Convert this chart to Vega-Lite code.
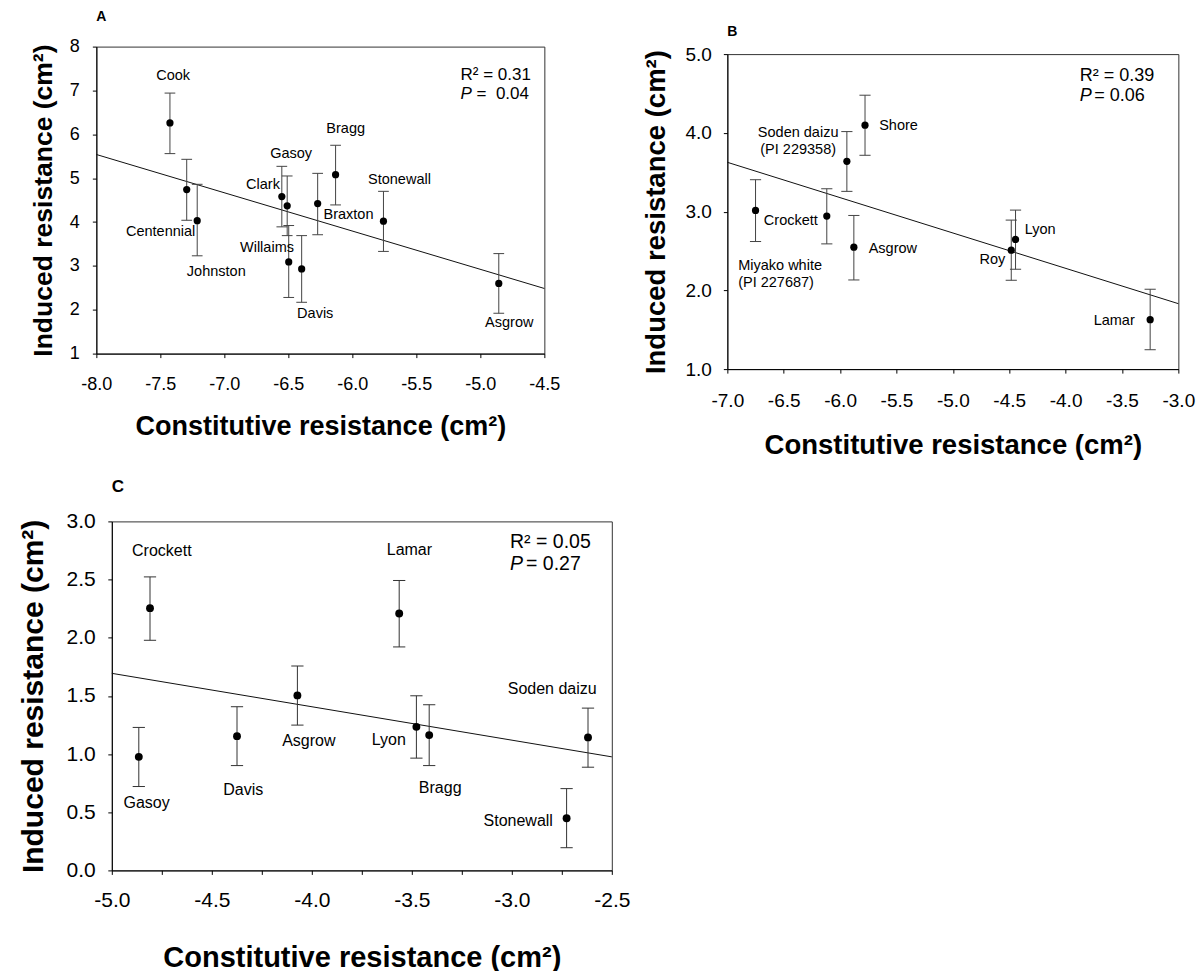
{
  "$schema": "https://vega.github.io/schema/vega-lite/v6.json",
  "background": "white",
  "padding": {"left": 0, "top": 0, "right": 2, "bottom": 0},
  "config": {
    "font": "Liberation Sans",
    "view": {"stroke": "#333", "strokeWidth": 1},
    "axis": {"labelFont": "Liberation Sans", "titleFont": "Liberation Sans", "labelColor": "black", "titleColor": "black", "domainColor": "black", "tickColor": "black", "grid": false, "labelFlush": false, "labelOverlap": false, "tickSize": 4, "titleFontWeight": "bold"},
    "text": {"font": "Liberation Sans"},
    "title": {"font": "Liberation Sans", "color": "black"}
  },
  "datasets": {
    "A": [
      {"name": "Cook", "x": -7.425, "y": 6.26, "lo": 5.56, "hi": 6.94, "lx": -7.40, "ly": 7.32},
      {"name": "Centennial", "x": -7.294, "y": 4.74, "lo": 4.04, "hi": 5.43, "lx": -7.498, "ly": 3.77},
      {"name": "Johnston", "x": -7.212, "y": 4.03, "lo": 3.23, "hi": 4.86, "lx": -7.063, "ly": 2.86},
      {"name": "Clark", "x": -6.551, "y": 4.58, "lo": 3.89, "hi": 5.27, "lx": -6.698, "ly": 4.84},
      {"name": "Gasoy", "x": -6.509, "y": 4.37, "lo": 3.69, "hi": 5.05, "lx": -6.478, "ly": 5.56},
      {"name": "Willaims", "x": -6.497, "y": 3.09, "lo": 2.28, "hi": 3.92, "lx": -6.667, "ly": 3.40},
      {"name": "Davis", "x": -6.396, "y": 2.93, "lo": 2.17, "hi": 3.69, "lx": -6.29, "ly": 1.90},
      {"name": "Braxton", "x": -6.271, "y": 4.42, "lo": 3.71, "hi": 5.11, "lx": -6.03, "ly": 4.17},
      {"name": "Bragg", "x": -6.131, "y": 5.08, "lo": 4.39, "hi": 5.75, "lx": -6.052, "ly": 6.11},
      {"name": "Stonewall", "x": -5.757, "y": 4.02, "lo": 3.33, "hi": 4.70, "lx": -5.632, "ly": 4.95},
      {"name": "Asgrow", "x": -4.856, "y": 2.60, "lo": 1.92, "hi": 3.28, "lx": -4.774, "ly": 1.70}
    ],
    "fitA": [{"x": -8, "y": 5.54}, {"x": -4.5, "y": 2.485}],
    "statA": [
      {"k": "r", "t": "R² = 0.31", "x": -5.155, "y": 7.36},
      {"k": "p", "t": "P", "x": -5.155, "y": 6.92},
      {"k": "v", "t": "=\u00a0\u00a00.04", "x": -5.155, "y": 6.92}
    ],
    "B": [
      {"name": "Miyako white\n(PI 227687)", "x": -6.750, "y": 3.015, "lo": 2.62, "hi": 3.405, "lx": -6.904, "ly": 2.307},
      {"name": "Crockett", "x": -6.118, "y": 2.943, "lo": 2.59, "hi": 3.29, "lx": -6.437, "ly": 2.88},
      {"name": "Soden daizu\n(PI 229358)", "x": -5.94, "y": 3.638, "lo": 3.257, "hi": 4.016, "lx": -6.372, "ly": 3.999},
      {"name": "Asgrow", "x": -5.878, "y": 2.548, "lo": 2.132, "hi": 2.951, "lx": -5.532, "ly": 2.53},
      {"name": "Shore", "x": -5.779, "y": 4.097, "lo": 3.715, "hi": 4.478, "lx": -5.482, "ly": 4.088},
      {"name": "Roy", "x": -4.482, "y": 2.51, "lo": 2.128, "hi": 2.892, "lx": -4.65, "ly": 2.387},
      {"name": "Lyon", "x": -4.444, "y": 2.646, "lo": 2.268, "hi": 3.019, "lx": -4.225, "ly": 2.77},
      {"name": "Lamar", "x": -3.25, "y": 1.628, "lo": 1.246, "hi": 2.014, "lx": -3.569, "ly": 1.607}
    ],
    "fitB": [{"x": -7, "y": 3.626}, {"x": -3, "y": 1.831}],
    "statB": [
      {"k": "r", "t": "R² = 0.39", "x": -3.875, "y": 4.72},
      {"k": "p", "t": "P", "x": -3.875, "y": 4.47},
      {"k": "v", "t": "= 0.06", "x": -3.875, "y": 4.47}
    ],
    "C": [
      {"name": "Gasoy", "x": -4.865, "y": 0.976, "lo": 0.721, "hi": 1.229, "lx": -4.826, "ly": 0.58},
      {"name": "Crockett", "x": -4.809, "y": 2.254, "lo": 1.978, "hi": 2.523, "lx": -4.75, "ly": 2.742},
      {"name": "Davis", "x": -4.374, "y": 1.154, "lo": 0.901, "hi": 1.407, "lx": -4.343, "ly": 0.689},
      {"name": "Asgrow", "x": -4.072, "y": 1.504, "lo": 1.249, "hi": 1.757, "lx": -4.015, "ly": 1.114},
      {"name": "Lamar", "x": -3.563, "y": 2.208, "lo": 1.921, "hi": 2.492, "lx": -3.512, "ly": 2.756},
      {"name": "Lyon", "x": -3.477, "y": 1.234, "lo": 0.965, "hi": 1.501, "lx": -3.615, "ly": 1.123},
      {"name": "Bragg", "x": -3.413, "y": 1.163, "lo": 0.901, "hi": 1.424, "lx": -3.358, "ly": 0.709},
      {"name": "Stonewall", "x": -2.726, "y": 0.448, "lo": 0.195, "hi": 0.703, "lx": -2.968, "ly": 0.422},
      {"name": "Soden daizu", "x": -2.619, "y": 1.143, "lo": 0.887, "hi": 1.395, "lx": -2.798, "ly": 1.556}
    ],
    "fitC": [{"x": -5, "y": 1.694}, {"x": -2.5, "y": 0.976}],
    "statC": [
      {"k": "r", "t": "R² = 0.05", "x": -3.009, "y": 2.819},
      {"k": "p", "t": "P", "x": -3.009, "y": 2.635},
      {"k": "v", "t": "= 0.27", "x": -3.009, "y": 2.635}
    ],
    "none": []
  },
  "spacing": 17.4,
  "vconcat": [
    {
      "spacing": 80.35,
      "hconcat": [
        {"spacing": 28.35, "hconcat": [
          {"width": 1, "height": 1, "view": {"stroke": null}, "data": {"name": "none"}, "mark": "point"},
          {"spacing": 8.6, "vconcat": [
            {"width": 1, "height": 1, "view": {"stroke": null}, "data": {"name": "none"}, "mark": "point"},
            {
              "width": 448, "height": 307,
              "title": {"text": "A", "anchor": "start", "frame": "group", "offset": 13.4, "fontSize": 14, "fontWeight": "bold", "color": "black"},
              "data": {"name": "A"},
              "layer": [
                {"data": {"name": "fitA"}, "mark": {"type": "line", "color": "#111", "strokeWidth": 1},
                 "encoding": {
                   "x": {"field": "x", "type": "quantitative", "scale": {"domain": [-8, -4.5], "nice": false, "zero": false},
                         "axis": {"title": "Constitutive resistance (cm²)", "values": [-8, -7.75, -7.5, -7.25, -7, -6.75, -6.5, -6.25, -6, -5.75, -5.5, -5.25, -5, -4.75, -4.5],
                                  "labelExpr": "abs(datum.value*2 - round(datum.value*2)) < 0.001 ? (datum.value < 0 ? '-' : '') + format(abs(datum.value), '.1f') : ''",
                                  "labelFontSize": 18, "labelPadding": 17.5, "titleFontSize": 27, "titlePadding": 20.5}},
                   "y": {"field": "y", "type": "quantitative", "scale": {"domain": [1, 8], "nice": false, "zero": false},
                         "axis": {"title": "Induced resistance (cm²)", "values": [1, 1.5, 2, 2.5, 3, 3.5, 4, 4.5, 5, 5.5, 6, 6.5, 7, 7.5, 8],
                                  "labelExpr": "abs(datum.value - round(datum.value)) < 0.001 ? format(datum.value, 'd') : ''",
                                  "labelFontSize": 18, "labelPadding": 13, "titleFontSize": 26.5, "titlePadding": 12.15}}
                 }},
                {"mark": {"type": "rule", "color": "#444", "strokeWidth": 1},
                 "encoding": {
                   "x": {"field": "x", "type": "quantitative", "scale": {"domain": [-8, -4.5], "nice": false, "zero": false}},
                   "y": {"field": "lo", "type": "quantitative", "scale": {"domain": [1, 8], "nice": false, "zero": false}},
                   "y2": {"field": "hi"}
                 }},
                {"mark": {"type": "point", "shape": "M-1,0L1,0", "size": 115, "filled": false, "color": "#444", "strokeWidth": 1, "opacity": 1},
                 "encoding": {
                   "x": {"field": "x", "type": "quantitative", "scale": {"domain": [-8, -4.5], "nice": false, "zero": false}},
                   "y": {"field": "hi", "type": "quantitative", "scale": {"domain": [1, 8], "nice": false, "zero": false}}
                 }},
                {"mark": {"type": "point", "shape": "M-1,0L1,0", "size": 115, "filled": false, "color": "#444", "strokeWidth": 1, "opacity": 1},
                 "encoding": {
                   "x": {"field": "x", "type": "quantitative", "scale": {"domain": [-8, -4.5], "nice": false, "zero": false}},
                   "y": {"field": "lo", "type": "quantitative", "scale": {"domain": [1, 8], "nice": false, "zero": false}}
                 }},
                {"mark": {"type": "circle", "color": "black", "size": 52, "opacity": 1},
                 "encoding": {
                   "x": {"field": "x", "type": "quantitative", "scale": {"domain": [-8, -4.5], "nice": false, "zero": false}},
                   "y": {"field": "y", "type": "quantitative", "scale": {"domain": [1, 8], "nice": false, "zero": false}}
                 }},
                {"mark": {"type": "text", "fontSize": 14.5, "color": "black", "align": "center", "baseline": "middle"},
                 "encoding": {
                   "x": {"field": "lx", "type": "quantitative", "scale": {"domain": [-8, -4.5], "nice": false, "zero": false}},
                   "y": {"field": "ly", "type": "quantitative", "scale": {"domain": [1, 8], "nice": false, "zero": false}},
                   "text": {"field": "name"}
                 }},
                {"data": {"name": "statA"}, "transform": [{"filter": "datum.k == 'r'"}],
                 "mark": {"type": "text", "fontSize": 17, "color": "black", "align": "left", "baseline": "middle"},
                 "encoding": {
                   "x": {"field": "x", "type": "quantitative", "scale": {"domain": [-8, -4.5], "nice": false, "zero": false}},
                   "y": {"field": "y", "type": "quantitative", "scale": {"domain": [1, 8], "nice": false, "zero": false}},
                   "text": {"field": "t"}
                 }},
                {"data": {"name": "statA"}, "transform": [{"filter": "datum.k == 'p'"}],
                 "mark": {"type": "text", "fontSize": 17, "fontStyle": "italic", "color": "black", "align": "left", "baseline": "middle"},
                 "encoding": {
                   "x": {"field": "x", "type": "quantitative", "scale": {"domain": [-8, -4.5], "nice": false, "zero": false}},
                   "y": {"field": "y", "type": "quantitative", "scale": {"domain": [1, 8], "nice": false, "zero": false}},
                   "text": {"field": "t"}
                 }},
                {"data": {"name": "statA"}, "transform": [{"filter": "datum.k == 'v'"}],
                 "mark": {"type": "text", "fontSize": 17, "color": "black", "align": "left", "baseline": "middle", "dx": 16},
                 "encoding": {
                   "x": {"field": "x", "type": "quantitative", "scale": {"domain": [-8, -4.5], "nice": false, "zero": false}},
                   "y": {"field": "y", "type": "quantitative", "scale": {"domain": [1, 8], "nice": false, "zero": false}},
                   "text": {"field": "t"}
                 }}
              ]
            }
          ]}
        ]},
        {"spacing": 23.1, "vconcat": [
          {"width": 1, "height": 1, "view": {"stroke": null}, "data": {"name": "none"}, "mark": "point"},
          {
            "width": 451, "height": 315,
            "title": {"text": "B", "anchor": "start", "frame": "group", "offset": 6.4, "fontSize": 14, "fontWeight": "bold", "color": "black"},
            "data": {"name": "B"},
            "layer": [
              {"data": {"name": "fitB"}, "mark": {"type": "line", "color": "#111", "strokeWidth": 1},
               "encoding": {
                 "x": {"field": "x", "type": "quantitative", "scale": {"domain": [-7, -3], "nice": false, "zero": false},
                       "axis": {"title": "Constitutive resistance (cm²)", "values": [-7, -6.75, -6.5, -6.25, -6, -5.75, -5.5, -5.25, -5, -4.75, -4.5, -4.25, -4, -3.75, -3.5, -3.25, -3],
                                "labelExpr": "abs(datum.value*2 - round(datum.value*2)) < 0.001 ? (datum.value < 0 ? '-' : '') + format(abs(datum.value), '.1f') : ''",
                                "labelFontSize": 19, "labelPadding": 18.5, "titleFontSize": 27.5, "titlePadding": 20.5}},
                 "y": {"field": "y", "type": "quantitative", "scale": {"domain": [1, 5], "nice": false, "zero": false},
                       "axis": {"title": "Induced resistance (cm²)", "values": [1, 1.25, 1.5, 1.75, 2, 2.25, 2.5, 2.75, 3, 3.25, 3.5, 3.75, 4, 4.25, 4.5, 4.75, 5],
                                "labelExpr": "abs(datum.value*2 - round(datum.value*2)) < 0.001 ? format(datum.value, '.1f') : ''",
                                "labelFontSize": 19, "labelPadding": 12, "titleFontSize": 27.5, "titlePadding": 14.25}}
               }},
              {"mark": {"type": "rule", "color": "#444", "strokeWidth": 1},
               "encoding": {
                 "x": {"field": "x", "type": "quantitative", "scale": {"domain": [-7, -3], "nice": false, "zero": false}},
                 "y": {"field": "lo", "type": "quantitative", "scale": {"domain": [1, 5], "nice": false, "zero": false}},
                 "y2": {"field": "hi"}
               }},
              {"mark": {"type": "point", "shape": "M-1,0L1,0", "size": 125, "filled": false, "color": "#444", "strokeWidth": 1, "opacity": 1},
               "encoding": {
                 "x": {"field": "x", "type": "quantitative", "scale": {"domain": [-7, -3], "nice": false, "zero": false}},
                 "y": {"field": "hi", "type": "quantitative", "scale": {"domain": [1, 5], "nice": false, "zero": false}}
               }},
              {"mark": {"type": "point", "shape": "M-1,0L1,0", "size": 125, "filled": false, "color": "#444", "strokeWidth": 1, "opacity": 1},
               "encoding": {
                 "x": {"field": "x", "type": "quantitative", "scale": {"domain": [-7, -3], "nice": false, "zero": false}},
                 "y": {"field": "lo", "type": "quantitative", "scale": {"domain": [1, 5], "nice": false, "zero": false}}
               }},
              {"mark": {"type": "circle", "color": "black", "size": 52, "opacity": 1},
               "encoding": {
                 "x": {"field": "x", "type": "quantitative", "scale": {"domain": [-7, -3], "nice": false, "zero": false}},
                 "y": {"field": "y", "type": "quantitative", "scale": {"domain": [1, 5], "nice": false, "zero": false}}
               }},
              {"transform": [{"filter": "indexof(datum.name, 'Miyako') < 0"}],
               "mark": {"type": "text", "fontSize": 14.5, "color": "black", "align": "center", "baseline": "middle", "lineBreak": "\n", "lineHeight": 17},
               "encoding": {
                 "x": {"field": "lx", "type": "quantitative", "scale": {"domain": [-7, -3], "nice": false, "zero": false}},
                 "y": {"field": "ly", "type": "quantitative", "scale": {"domain": [1, 5], "nice": false, "zero": false}},
                 "text": {"field": "name"}
               }},
              {"transform": [{"filter": "indexof(datum.name, 'Miyako') >= 0"}],
               "mark": {"type": "text", "fontSize": 14.5, "color": "black", "align": "left", "baseline": "middle", "lineBreak": "\n", "lineHeight": 17},
               "encoding": {
                 "x": {"field": "lx", "type": "quantitative", "scale": {"domain": [-7, -3], "nice": false, "zero": false}},
                 "y": {"field": "ly", "type": "quantitative", "scale": {"domain": [1, 5], "nice": false, "zero": false}},
                 "text": {"field": "name"}
               }},
              {"data": {"name": "statB"}, "transform": [{"filter": "datum.k == 'r'"}],
               "mark": {"type": "text", "fontSize": 18, "color": "black", "align": "left", "baseline": "middle"},
               "encoding": {
                 "x": {"field": "x", "type": "quantitative", "scale": {"domain": [-7, -3], "nice": false, "zero": false}},
                 "y": {"field": "y", "type": "quantitative", "scale": {"domain": [1, 5], "nice": false, "zero": false}},
                 "text": {"field": "t"}
               }},
              {"data": {"name": "statB"}, "transform": [{"filter": "datum.k == 'p'"}],
               "mark": {"type": "text", "fontSize": 18, "fontStyle": "italic", "color": "black", "align": "left", "baseline": "middle"},
               "encoding": {
                 "x": {"field": "x", "type": "quantitative", "scale": {"domain": [-7, -3], "nice": false, "zero": false}},
                 "y": {"field": "y", "type": "quantitative", "scale": {"domain": [1, 5], "nice": false, "zero": false}},
                 "text": {"field": "t"}
               }},
              {"data": {"name": "statB"}, "transform": [{"filter": "datum.k == 'v'"}],
               "mark": {"type": "text", "fontSize": 18, "color": "black", "align": "left", "baseline": "middle", "dx": 14.5},
               "encoding": {
                 "x": {"field": "x", "type": "quantitative", "scale": {"domain": [-7, -3], "nice": false, "zero": false}},
                 "y": {"field": "y", "type": "quantitative", "scale": {"domain": [1, 5], "nice": false, "zero": false}},
                 "text": {"field": "t"}
               }}
            ]
          }
        ]}
      ]
    },
    {"spacing": 16.8, "hconcat": [
      {"width": 1, "height": 1, "view": {"stroke": null}, "data": {"name": "none"}, "mark": "point"},
      {
        "width": 500, "height": 349,
        "title": {"text": "C", "anchor": "start", "frame": "group", "offset": 14.1, "fontSize": 17, "fontWeight": "bold", "color": "black"},
        "data": {"name": "C"},
        "layer": [
          {"data": {"name": "fitC"}, "mark": {"type": "line", "color": "#111", "strokeWidth": 1},
           "encoding": {
             "x": {"field": "x", "type": "quantitative", "scale": {"domain": [-5, -2.5], "nice": false, "zero": false},
                   "axis": {"title": "Constitutive resistance (cm²)", "values": [-5, -4.75, -4.5, -4.25, -4, -3.75, -3.5, -3.25, -3, -2.75, -2.5],
                            "labelExpr": "abs(datum.value*2 - round(datum.value*2)) < 0.001 ? (datum.value < 0 ? '-' : '') + format(abs(datum.value), '.1f') : ''",
                            "labelFontSize": 21, "labelPadding": 15.5, "titleFontSize": 29, "titlePadding": 33}},
             "y": {"field": "y", "type": "quantitative", "scale": {"domain": [0, 3], "nice": false, "zero": false},
                   "axis": {"title": "Induced resistance (cm²)", "values": [0, 0.25, 0.5, 0.75, 1, 1.25, 1.5, 1.75, 2, 2.25, 2.5, 2.75, 3],
                            "labelExpr": "abs(datum.value*2 - round(datum.value*2)) < 0.001 ? format(datum.value, '.1f') : ''",
                            "labelFontSize": 21, "labelPadding": 12.5, "titleFontSize": 30, "titlePadding": 17.5}}
           }},
          {"mark": {"type": "rule", "color": "#333", "strokeWidth": 1},
           "encoding": {
             "x": {"field": "x", "type": "quantitative", "scale": {"domain": [-5, -2.5], "nice": false, "zero": false}},
             "y": {"field": "lo", "type": "quantitative", "scale": {"domain": [0, 3], "nice": false, "zero": false}},
             "y2": {"field": "hi"}
           }},
          {"mark": {"type": "point", "shape": "M-1,0L1,0", "size": 150, "filled": false, "color": "#333", "strokeWidth": 1, "opacity": 1},
           "encoding": {
             "x": {"field": "x", "type": "quantitative", "scale": {"domain": [-5, -2.5], "nice": false, "zero": false}},
             "y": {"field": "hi", "type": "quantitative", "scale": {"domain": [0, 3], "nice": false, "zero": false}}
           }},
          {"mark": {"type": "point", "shape": "M-1,0L1,0", "size": 150, "filled": false, "color": "#333", "strokeWidth": 1, "opacity": 1},
           "encoding": {
             "x": {"field": "x", "type": "quantitative", "scale": {"domain": [-5, -2.5], "nice": false, "zero": false}},
             "y": {"field": "lo", "type": "quantitative", "scale": {"domain": [0, 3], "nice": false, "zero": false}}
           }},
          {"mark": {"type": "circle", "color": "black", "size": 62, "opacity": 1},
           "encoding": {
             "x": {"field": "x", "type": "quantitative", "scale": {"domain": [-5, -2.5], "nice": false, "zero": false}},
             "y": {"field": "y", "type": "quantitative", "scale": {"domain": [0, 3], "nice": false, "zero": false}}
           }},
          {"mark": {"type": "text", "fontSize": 16, "color": "black", "align": "center", "baseline": "middle"},
           "encoding": {
             "x": {"field": "lx", "type": "quantitative", "scale": {"domain": [-5, -2.5], "nice": false, "zero": false}},
             "y": {"field": "ly", "type": "quantitative", "scale": {"domain": [0, 3], "nice": false, "zero": false}},
             "text": {"field": "name"}
           }},
          {"data": {"name": "statC"}, "transform": [{"filter": "datum.k == 'r'"}],
           "mark": {"type": "text", "fontSize": 19.5, "color": "black", "align": "left", "baseline": "middle"},
           "encoding": {
             "x": {"field": "x", "type": "quantitative", "scale": {"domain": [-5, -2.5], "nice": false, "zero": false}},
             "y": {"field": "y", "type": "quantitative", "scale": {"domain": [0, 3], "nice": false, "zero": false}},
             "text": {"field": "t"}
           }},
          {"data": {"name": "statC"}, "transform": [{"filter": "datum.k == 'p'"}],
           "mark": {"type": "text", "fontSize": 19.5, "fontStyle": "italic", "color": "black", "align": "left", "baseline": "middle"},
           "encoding": {
             "x": {"field": "x", "type": "quantitative", "scale": {"domain": [-5, -2.5], "nice": false, "zero": false}},
             "y": {"field": "y", "type": "quantitative", "scale": {"domain": [0, 3], "nice": false, "zero": false}},
             "text": {"field": "t"}
           }},
          {"data": {"name": "statC"}, "transform": [{"filter": "datum.k == 'v'"}],
           "mark": {"type": "text", "fontSize": 19.5, "color": "black", "align": "left", "baseline": "middle", "dx": 16},
           "encoding": {
             "x": {"field": "x", "type": "quantitative", "scale": {"domain": [-5, -2.5], "nice": false, "zero": false}},
             "y": {"field": "y", "type": "quantitative", "scale": {"domain": [0, 3], "nice": false, "zero": false}},
             "text": {"field": "t"}
           }}
        ]
      }
    ]}
  ]
}
